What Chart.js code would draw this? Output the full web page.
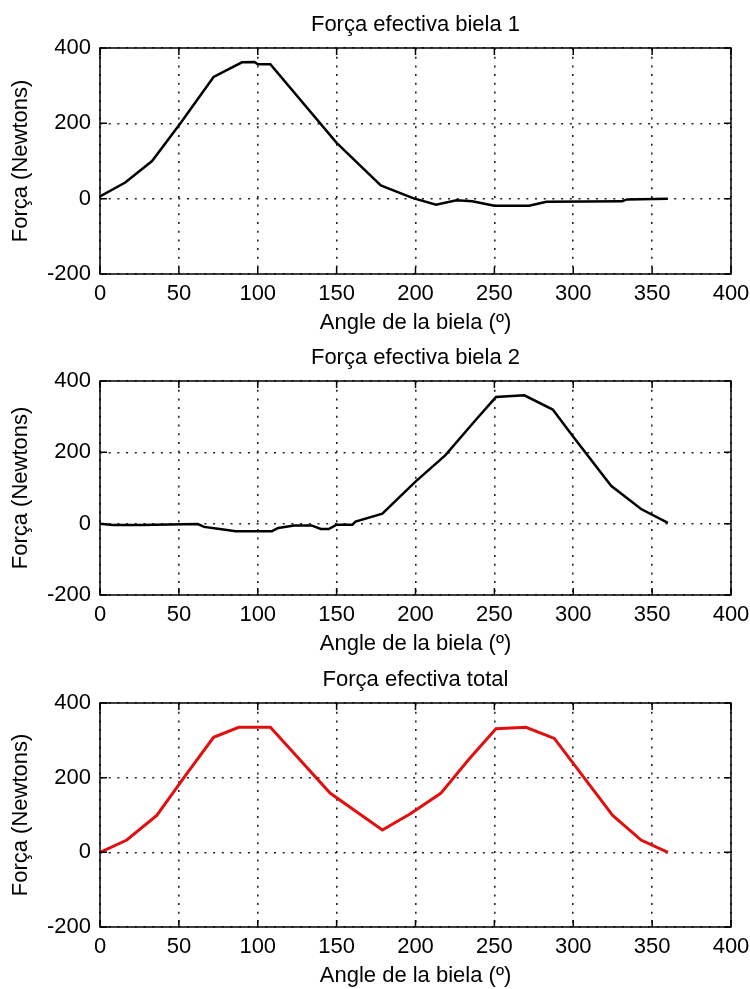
<!DOCTYPE html>
<html>
<head>
<meta charset="utf-8">
<script src="https://cdn.jsdelivr.net/npm/chart.js@4.4.1/dist/chart.umd.min.js"></script>
<style>
  body { margin: 0; background: #fff; }
  #page { position: relative; width: 750px; height: 989px; overflow: hidden; background: #fff; }
  canvas { position: absolute; left: 0; }
</style>
</head>
<body>
<div id="page">
  <canvas id="chart1" width="750" height="338" style="top:0px"></canvas>
  <canvas id="chart2" width="750" height="326" style="top:333px"></canvas>
  <canvas id="chart3" width="750" height="336" style="top:655px"></canvas>
</div>
<script>
// data (angle in degrees, force in newtons)
const angle1 = [0, 16, 33, 51, 72, 90, 98, 100, 108, 150, 178, 198, 213, 226, 236, 250, 272, 283, 331, 334, 360];
const force1 = [6, 43, 100, 200, 323, 362, 363, 357, 357, 148, 35, 2, -16, -4, -7, -19, -19, -8, -7, -2, 0];

const angle2 = [0, 8, 26, 62, 66, 76, 86, 109, 113, 123, 134, 140, 145, 150, 160, 162, 179, 200, 219, 238, 251, 269, 287, 300, 324, 343, 360];
const force2 = [0, -4, -4, -1, -9, -15, -21, -21, -12, -5, -5, -15, -15, -3, -3, 6, 28, 118, 192, 290, 355, 360, 320, 244, 106, 41, 2];

const angle3 = [0, 17, 36, 54, 72, 88, 108, 146, 179, 197, 216, 234, 251, 270, 288, 325, 343, 360];
const force3 = [0, 33, 99, 205, 308, 335, 335, 158, 60, 104, 158, 250, 331, 335, 305, 99, 33, 0];

const xTicks = [0, 50, 100, 150, 200, 250, 300, 350, 400];
const yTicks = [-200, 0, 200, 400];

const titles = ['Força efectiva biela 1', 'Força efectiva biela 2', 'Força efectiva total'];
const xTitle = 'Angle de la biela (º)';
const yTitle = 'Força (Newtons)';

Chart.defaults.font.family = "'Liberation Sans', Arial, sans-serif";
Chart.defaults.font.size = 22;
Chart.defaults.color = '#000';

// box round the plot with small inward ticks on every side
const framePlugin = {
    id: 'frame',
    afterDraw(chart) {
        const ctx = chart.ctx;
        const a = chart.chartArea;
        const x = chart.scales.x;
        const y = chart.scales.y;
        ctx.save();
        ctx.setLineDash([]);
        ctx.strokeStyle = '#000';
        ctx.lineWidth = 1.5;
        ctx.strokeRect(a.left, a.top, a.right - a.left, a.bottom - a.top);
        ctx.beginPath();
        x.ticks.forEach(t => {
            const px = x.getPixelForValue(t.value);
            ctx.moveTo(px, a.bottom); ctx.lineTo(px, a.bottom - 7);
            ctx.moveTo(px, a.top); ctx.lineTo(px, a.top + 7);
        });
        y.ticks.forEach(t => {
            const py = y.getPixelForValue(t.value);
            ctx.moveTo(a.left, py); ctx.lineTo(a.left + 7, py);
            ctx.moveTo(a.right, py); ctx.lineTo(a.right - 7, py);
        });
        ctx.stroke();
        ctx.restore();
    }
};

function makeChart(id, title, angles, forces, color, width) {
    const points = angles.map((a, i) => ({x: a, y: forces[i]}));
    return new Chart(document.getElementById(id), {
        type: 'line',
        data: {
            datasets: [{
                data: points,
                borderColor: color,
                borderWidth: width,
                pointRadius: 0,
                tension: 0,
                fill: false
            }]
        },
        options: {
            responsive: false,
            animation: false,
            devicePixelRatio: 1,
            layout: { padding: { left: 0, right: 19, top: 0, bottom: 0 } },
            plugins: {
                legend: { display: false },
                tooltip: { enabled: false },
                title: {
                    display: true,
                    fullSize: false,
                    text: title,
                    color: '#000',
                    font: { size: 22, weight: 'normal' },
                    padding: { top: 12, bottom: 9.6 }
                }
            },
            scales: {
                x: {
                    type: 'linear',
                    min: 0,
                    max: 400,
                    afterBuildTicks: s => { s.ticks = xTicks.map(v => ({value: v})); },
                    afterFit: s => { s.height = 64; s.paddingLeft = 0; s.paddingRight = 0; },
                    ticks: { padding: 7, maxRotation: 0, autoSkip: false },
                    grid: { color: '#222', lineWidth: 1.6, drawTicks: false },
                    border: { display: false, dash: [2, 6.7] },
                    title: { display: true, text: xTitle, padding: { top: 0, bottom: 2 } }
                },
                y: {
                    min: -200,
                    max: 400,
                    afterBuildTicks: s => { s.ticks = yTicks.map(v => ({value: v})); },
                    afterFit: s => { s.width = 100; },
                    ticks: { padding: 9 },
                    grid: { color: '#222', lineWidth: 1.6, drawTicks: false },
                    border: { display: false, dash: [2, 6.7] },
                    title: { display: true, text: yTitle, padding: { top: 8, bottom: 0 } }
                }
            }
        },
        plugins: [framePlugin]
    });
}

makeChart('chart1', titles[0], angle1, force1, '#000', 2.5);
makeChart('chart2', titles[1], angle2, force2, '#000', 2.5);
makeChart('chart3', titles[2], angle3, force3, '#e01010', 3);
</script>
</body>
</html>
